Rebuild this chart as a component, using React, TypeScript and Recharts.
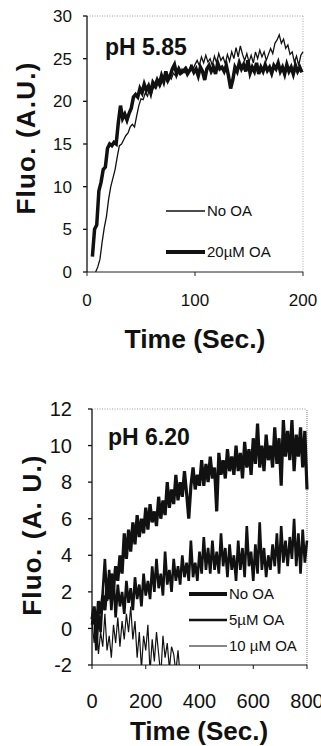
import React from "react";
import { Label, Line, LineChart, ReferenceLine, XAxis, YAxis } from "recharts";

const FONT = "'Liberation Sans', Arial, sans-serif";

// top panel: pH 5.85, one reading every 2 s
const TOP_STEP = 2;
const TOP_NO_OA_START = 8;
const topNoOa = [
  0, 0.6, 1.5, 3.5, 5.2, 6.5, 8.5, 10, 11, 12, 13.5, 14.8, 15, 15.5, 16, 16.3,
  17, 17.3, 17, 18.3, 19.5, 20.3, 20.2, 21, 20.6, 21.5, 21, 21.8, 21.5, 22.2,
  21.8, 22.5, 22.8, 22.3, 23, 22.6, 23.3, 23, 23.5, 23.1, 23.8, 23.4, 24, 23.5,
  24.2, 23.7, 24.3, 24.8, 24.2, 25.2, 24.5, 25.4, 24.6, 25, 24.2, 25.3, 24.5,
  25.6, 24.8, 25.2, 24.4, 25.5, 24.7, 25.8, 25, 26.3, 25.2, 26.5, 25.5, 24.8,
  25.6, 24.6, 25.4, 24.5, 25.8, 25, 26, 25.2, 25.8, 24.8, 25.5, 26.2, 25.6,
  26.8, 27.2, 27.8, 26.8, 27.3, 26.2, 26.6, 25.5, 25.8, 24.6, 25.3, 24.2, 25.4,
  25.8,
];
const TOP_OA20_START = 5;
const topOa20 = [
  1.8, 5, 5.5, 9.5, 10.5, 12, 12.3, 14.5, 15, 14.8, 15.2, 15, 17.5, 19.5, 18,
  18.5, 17.8, 18.6, 19.2, 20.5, 20.8, 20.5, 21.5, 21, 22, 21.3, 21.8, 21, 22.2,
  21.8, 22.5, 22, 23, 22.3, 23.5, 22.5, 23, 23.8, 24.3, 23.2, 23.8, 23.3, 23.5,
  23.8, 23.2, 23.6, 24, 23.4, 23.8, 23, 24, 23.5, 22.5, 23.8, 24.2, 23.5, 24,
  23.2, 24.5, 23.8, 24, 23.5, 24.2, 23, 21.5, 22.5, 24, 23.5, 24.5, 23.8, 24.3,
  23.5, 24.8, 23.3, 24, 23.5, 24.5, 23.2, 24, 23.5, 24.3, 23.6, 24, 23.3, 24.2,
  23.8, 24.5, 23.5, 24, 23.2, 24.3, 23.5, 24, 23.2, 24.2, 23.5, 24, 23.4,
];

// bottom panel: pH 6.20, one reading every 8 s
const BOT_STEP = 8;
const botNoOa = [
  0.5, 1.2, -0.3, 1.5, 0.8, 1.8, 1.0, 2.4, 1.6, 3.0, 2.2, 3.4, 2.6, 4.0, 3.0,
  5.2, 3.8, 5.4, 4.2, 5.8, 4.6, 6.2, 5.0, 6.0, 5.2, 6.6, 5.4, 6.8, 5.8, 6.4, 5.6,
  7.2, 6.0, 7.0, 6.2, 8.0, 6.6, 7.6, 6.8, 8.4, 7.0, 8.0, 7.2, 8.6, 7.4, 6.0, 7.8,
  8.8, 7.6, 8.4, 7.8, 9.2, 7.8, 9.0, 8.0, 9.4, 8.2, 8.8, 6.4, 9.6, 8.4, 9.2, 8.2,
  9.8, 8.6, 9.4, 8.4, 10.0, 8.6, 9.6, 8.2, 10.2, 8.8, 9.8, 8.4, 10.4, 9.0, 11.2,
  8.8, 10.0, 8.6, 10.6, 9.2, 10.0, 8.8, 11.0, 9.0, 10.4, 7.8, 11.4, 9.4, 10.8,
  9.2, 11.4, 8.6, 10.6, 9.4, 11.0, 8.8, 10.8, 7.6,
];
const bot5uM = [
  0.2, 1.0, -1.2, 0.8, -0.2, 2.0, 3.8, 1.5, 3.2, 1.0, 2.8, 0.6, 2.4, 1.2, 2.0,
  0.8, 2.6, 1.4, 2.2, 1.0, 2.8, 1.6, 2.4, 1.2, 3.0, 1.8, 2.6, 1.6, 3.4, 2.0, 3.8,
  2.2, 3.0, 1.8, 4.2, 2.4, 3.2, 2.0, 3.8, 2.6, 3.4, 2.4, 4.0, 2.8, 3.6, 2.6, 4.8,
  2.8, 3.6, 2.6, 4.2, 3.0, 5.0, 3.2, 4.4, 3.0, 4.8, 3.2, 4.2, 3.0, 5.2, 3.4, 4.4,
  2.8, 4.6, 3.2, 4.0, 2.6, 4.8, 3.2, 4.4, 2.8, 5.6, 3.4, 4.2, 2.6, 4.6, 3.0, 5.8,
  3.2, 4.4, 2.8, 4.0, 3.2, 4.6, 3.4, 5.2, 3.0, 5.6, 3.6, 4.8, 3.4, 5.0, 3.8, 6.0,
  3.4, 5.2, 3.0, 5.4, 3.6, 4.8,
];
const bot10uM = [
  0.4, -0.8, 0.6, -1.4, -0.2, -1.0, 0.8, -1.2, -0.4, -1.6, 0.2, -0.8, 0.6, -1.0,
  0.4, -0.6, 0.8, -0.2, 1.2, -0.6, 0.4, -1.6, -0.2, -2.2, -0.4, -1.2, 0.2, -2.4,
  -0.6, -1.8, -0.2, -1.4, -2.6, -0.4, -1.6, -0.8, -2.2, -1.0, -1.4, -2.4, -1.2,
  -2.6,
];

const topXTicks = [0, 100, 200];
const topYTicks = [0, 5, 10, 15, 20, 25, 30];
const botXTicks = [0, 200, 400, 600, 800];
const botYTicks = [-2, 0, 2, 4, 6, 8, 10, 12];

const toPoints = (values: number[], start: number, step: number) =>
  values.map((v, i) => ({ t: start + i * step, v }));

const topDecor = () => (
  <g fontFamily={FONT} fill="#111">
    <text x={105} y={55} fontSize={23} fontWeight="bold">pH 5.85</text>
    <text x={35} y={138} transform="rotate(-90 35 138)" textAnchor="middle"
      fontSize={26} fontWeight="bold" letterSpacing={1.2}>Fluo. (A.U.)</text>
    <text x={195} y={348} textAnchor="middle" fontSize={26.5} fontWeight="bold">
      Time (Sec.)
    </text>
    <line x1={166} x2={205} y1={211} y2={211} stroke="#111" strokeWidth={1.3} />
    <text x={207} y={216} fontSize={15}>No OA</text>
    <line x1={166} x2={205} y1={252} y2={252} stroke="#111" strokeWidth={4} />
    <text x={207} y={257} fontSize={15}>20µM OA</text>
  </g>
);

const botDecor = () => (
  <g fontFamily={FONT} fill="#111">
    <text x={108} y={72} fontSize={23} fontWeight="bold">pH 6.20</text>
    <text x={41} y={162} transform="rotate(-90 41 162)" textAnchor="middle"
      fontSize={26} fontWeight="bold" letterSpacing={1.2}>Fluo. (A. U.)</text>
    <text x={199} y={367} textAnchor="middle" fontSize={26} fontWeight="bold">
      Time (Sec.)
    </text>
    <line x1={189} x2={227} y1={221} y2={221} stroke="#111" strokeWidth={4} />
    <text x={229} y={226} fontSize={15}>No OA</text>
    <line x1={189} x2={227} y1={247} y2={247} stroke="#111" strokeWidth={2.5} />
    <text x={229} y={252} fontSize={15}>5µM OA</text>
    <line x1={189} x2={227} y1={273} y2={273} stroke="#111" strokeWidth={1} />
    <text x={229} y={278} fontSize={15}>10 µM OA</text>
  </g>
);

export default function App() {
  return (
    <div style={{ position: "absolute", left: 0, top: 0, width: 321, height: 746, background: "#fff" }}>
      <LineChart width={321} height={373} margin={{ top: 16, right: 18, bottom: 0, left: 0 }}>
        <XAxis type="number" dataKey="t" domain={[0, 200]} ticks={topXTicks} interval={0}
          height={101} tickSize={4} tickMargin={18} stroke="#222"
          tick={{ fill: "#111", fontSize: 17, fontFamily: FONT }} />
        <YAxis type="number" domain={[0, 30]} ticks={topYTicks} interval={0} width={87}
          tickSize={4} tickMargin={11} stroke="#111" strokeWidth={1.3}
          tick={{ fill: "#111", fontSize: 17, fontFamily: FONT }}>
          <Label content={topDecor} />
        </YAxis>
        <ReferenceLine y={30} stroke="#999" strokeDasharray="1 1.5" />
        <ReferenceLine x={200} stroke="#aaa" strokeDasharray="1 1.5" />
        <Line data={toPoints(topNoOa, TOP_NO_OA_START, TOP_STEP)} dataKey="v" type="linear"
          stroke="#111" strokeWidth={1.3} dot={false} isAnimationActive={false} />
        <Line data={toPoints(topOa20, TOP_OA20_START, TOP_STEP)} dataKey="v" type="linear"
          stroke="#111" strokeWidth={3.5} dot={false} isAnimationActive={false} />
      </LineChart>
      <div style={{ position: "absolute", left: 0, top: 373 }}>
        <LineChart width={321} height={373} margin={{ top: 36, right: 14, bottom: 0, left: 0 }}>
          <XAxis type="number" dataKey="t" domain={[0, 800]} ticks={botXTicks} interval={0}
            height={81} tickSize={4} tickMargin={25} stroke="#111"
            tick={{ fill: "#111", fontSize: 20, fontFamily: FONT }} />
          <YAxis type="number" domain={[-2, 12]} ticks={botYTicks} interval={0} width={92}
            allowDataOverflow tickSize={4} tickMargin={16} stroke="#111" strokeWidth={1.3}
            tick={{ fill: "#111", fontSize: 20, fontFamily: FONT }}>
            <Label content={botDecor} />
          </YAxis>
          <ReferenceLine y={12} stroke="#999" strokeDasharray="1 1.5" />
          <ReferenceLine x={800} stroke="#777" strokeDasharray="1 1" />
          <Line data={toPoints(bot10uM, 0, BOT_STEP)} dataKey="v" type="linear"
            stroke="#111" strokeWidth={1.2} dot={false} isAnimationActive={false} />
          <Line data={toPoints(bot5uM, 0, BOT_STEP)} dataKey="v" type="linear"
            stroke="#111" strokeWidth={2.6} dot={false} isAnimationActive={false} />
          <Line data={toPoints(botNoOa, 0, BOT_STEP)} dataKey="v" type="linear"
            stroke="#111" strokeWidth={3.2} dot={false} isAnimationActive={false} />
        </LineChart>
      </div>
    </div>
  );
}
